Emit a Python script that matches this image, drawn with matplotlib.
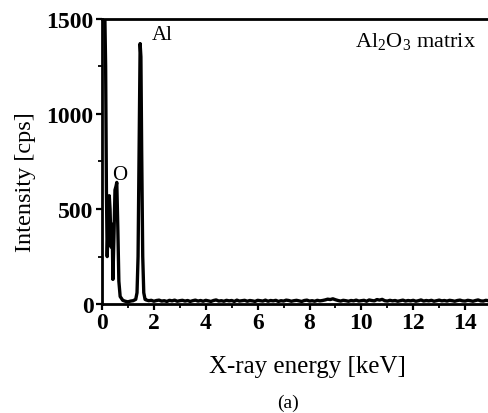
"""
EDS spectrum of the Al2O3 matrix
"""
import numpy as np
import matplotlib.pyplot as plt

plt.rcParams['font.family'] = ['Liberation Serif', 'DejaVu Serif']
plt.rcParams['mathtext.fontset'] = 'custom'
plt.rcParams['mathtext.rm'] = 'Liberation Serif'

# spectrum: energy (keV) and intensity (cps)
energy_peaks = [0.00, 0.03, 0.06, 0.10, 0.14, 0.17, 0.20, 0.24, 0.28, 0.31,
                0.35, 0.39, 0.42, 0.46, 0.50, 0.54, 0.57, 0.61, 0.65, 0.70,
                0.80, 0.90, 1.00, 1.10, 1.20, 1.30, 1.35, 1.39, 1.43, 1.47,
                1.50, 1.53, 1.57, 1.61, 1.66]
intensity_peaks = [1600, 1600, 1600, 1600, 1250, 600, 250, 450, 570, 500,
                   300, 420, 130, 350, 600, 620, 640, 400, 120, 40,
                   20, 15, 12, 16, 18, 25, 60, 250, 800, 1370,
                   1300, 800, 250, 60, 25]

# background from 1.7 to 15.0 keV, one reading every 0.1 keV
intensity_tail = [22, 18, 20, 15, 19, 21, 16, 18, 14, 20,
                  17, 21, 15, 18, 20, 16, 19, 14, 18, 21,
                  16, 19, 15, 20, 17, 14, 19, 22, 16, 18,
                  15, 20, 17, 19, 14, 21, 16, 18, 20, 15,
                  19, 17, 14, 20, 18, 16, 21, 15, 19, 17,
                  20, 14, 18, 16, 21, 19, 15, 18, 20, 17,
                  14, 19, 21, 16, 18, 15, 20, 17, 19, 22,
                  26, 24, 28, 23, 19, 16, 20, 18, 15, 19,
                  17, 21, 16, 18, 20, 15, 22, 19, 17, 24,
                  21, 25, 18, 16, 20, 17, 19, 15, 18, 21,
                  16, 19, 17, 20, 15, 18, 22, 16, 19, 17,
                  20, 15, 18, 21, 17, 19, 16, 20, 18, 15,
                  19, 21, 17, 16, 20, 18, 15, 19, 22, 17,
                  16, 20, 18, 19]
energy_tail = list(np.round(1.7 + 0.1 * np.arange(len(intensity_tail)), 2))

energy = np.array(energy_peaks + energy_tail)
intensity = np.array(intensity_peaks + intensity_tail)

fig = plt.figure(figsize=(4.89, 4.14), dpi=100)
ax = fig.add_axes([0.2086, 0.263, 0.7914, 0.689])

ax.plot(energy, intensity, color='black', lw=2.4)

ax.set_xlim(0, 14.92)
ax.set_ylim(0, 1500)
ax.set_xticks(np.arange(0, 15, 2))
ax.set_xticks(np.arange(1, 15, 2), minor=True)
ax.set_yticks([0, 500, 1000, 1500])
ax.set_yticks([250, 750, 1250], minor=True)

for side in ['left', 'top', 'bottom']:
    ax.spines[side].set_linewidth(2)
ax.spines['right'].set_visible(False)

ax.tick_params(which='major', direction='out', length=4.5, width=1.6,
               labelsize=17, pad=1.5)
ax.tick_params(which='minor', direction='out', length=3, width=1.3)
for lab in ax.get_xticklabels() + ax.get_yticklabels():
    lab.set_fontweight('bold')

ax.set_xlabel('X-ray energy [keV]', fontsize=18)
ax.xaxis.set_label_coords(0.531, -0.18)
ax.set_ylabel('Intensity [cps]', fontsize=17.5)
ax.yaxis.set_label_coords(-0.17, 0.43)

ax.text(1.93, 1395, 'Al', fontsize=15)
ax.text(0.39, 658, 'O', fontsize=15)
ax.text(9.76, 1353, r'Al$_\mathrm{2}$O$_\mathrm{3}$ matrix', fontsize=16)
fig.text(0.588, 0.015, '(a)', fontsize=14, ha='center', va='baseline')

fig.savefig('out.png', dpi=100)
